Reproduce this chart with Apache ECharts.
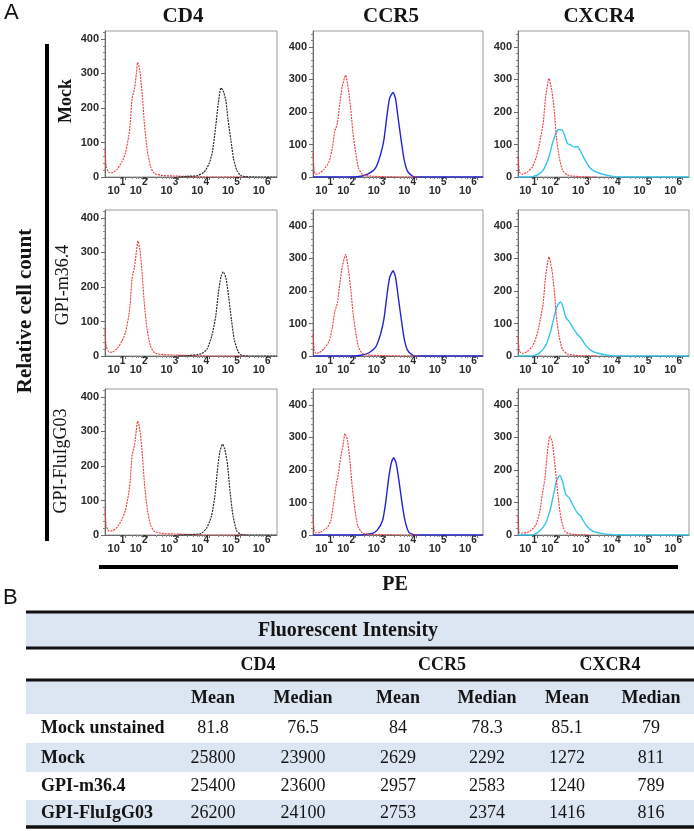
<!DOCTYPE html>
<html><head><meta charset="utf-8">
<script src="https://cdn.jsdelivr.net/npm/echarts@6/dist/echarts.min.js"></script>
<style>html,body{margin:0;padding:0;background:#fff;}#c{width:694px;height:831px;}</style>
</head><body><div id="c"></div>
<script>
// ---------- DATA ----------
const markers = ['CD4', 'CCR5', 'CXCR4'];
const samples = ['Mock', 'GPI-m36.4', 'GPI-FluIgG03'];
const tickExponents = [1, 2, 3, 4, 5, 6];
const tickPositions = [1.28, 2, 3, 4, 5, 6];   // display position of 10^k on the biexponential PE axis
const yTicks = [0, 100, 200, 300, 400];

// [display position on PE axis, cell count]
const cd4Red1 = [[0.62,83],[0.66,30],[0.74,14],[0.85,12],[1.01,22],[1.17,44],[1.28,68],[1.39,118],[1.44,155],[1.50,228],[1.58,256],[1.64,300],[1.68,332],[1.75,310],[1.83,238],[1.90,155],[1.99,80],[2.10,30],[2.23,10],[2.53,4],[2.86,3],[3.5,1],[4.0,0],[5.2,0]];
const cd4Red2 = [[0.62,77],[0.66,28],[0.74,13],[0.85,11],[1.01,21],[1.17,43],[1.28,66],[1.39,116],[1.44,152],[1.50,225],[1.58,258],[1.64,302],[1.69,333],[1.76,305],[1.83,235],[1.90,150],[1.99,76],[2.10,28],[2.23,9],[2.53,4],[2.86,3],[3.5,1],[4.0,0],[5.2,0]];
const cd4Red3 = [[0.62,74],[0.66,27],[0.74,12],[0.85,12],[1.01,22],[1.17,45],[1.28,70],[1.39,120],[1.44,158],[1.50,230],[1.58,262],[1.64,305],[1.68,330],[1.75,308],[1.83,236],[1.90,152],[1.99,78],[2.10,29],[2.23,10],[2.53,4],[2.86,3],[3.5,1],[4.0,0],[5.2,0]];
const cd4Stain1 = [[3.0,0],[3.29,2],[3.62,4],[3.84,14],[4.00,38],[4.11,72],[4.22,148],[4.30,212],[4.39,258],[4.46,250],[4.55,220],[4.62,165],[4.71,108],[4.80,52],[4.91,18],[5.04,4],[5.2,1],[5.5,0],[6.21,0]];
const cd4Stain2 = [[3.0,0],[3.3,1],[3.73,6],[3.93,19],[4.09,58],[4.22,116],[4.30,180],[4.39,230],[4.46,244],[4.55,226],[4.64,170],[4.73,105],[4.82,48],[4.95,12],[5.07,2],[5.3,0],[6.21,0]];
const cd4Stain3 = [[3.0,0],[3.3,1],[3.73,4],[3.93,21],[4.08,55],[4.19,112],[4.27,185],[4.35,240],[4.44,263],[4.51,250],[4.60,205],[4.68,130],[4.78,55],[4.90,12],[5.03,2],[5.3,0],[6.21,0]];

const ccr5Red1 = [[0.62,72],[0.66,20],[0.71,8],[0.82,11],[0.98,23],[1.15,48],[1.26,92],[1.33,138],[1.42,165],[1.50,225],[1.58,278],[1.69,313],[1.78,270],[1.86,208],[1.93,137],[2.02,76],[2.11,29],[2.24,8],[2.46,3],[3.0,1],[3.5,0],[4.1,0]];
const ccr5Red2 = [[0.62,68],[0.66,20],[0.71,8],[0.82,10],[0.98,22],[1.15,46],[1.26,90],[1.33,135],[1.42,163],[1.50,222],[1.58,275],[1.69,312],[1.78,268],[1.86,205],[1.93,135],[2.02,74],[2.11,28],[2.24,8],[2.46,3],[3.0,1],[3.5,0],[4.1,0]];
const ccr5Red3 = [[0.62,54],[0.66,15],[0.70,7],[0.85,8],[1.09,23],[1.20,43],[1.29,95],[1.37,147],[1.45,188],[1.53,240],[1.61,277],[1.67,312],[1.75,292],[1.83,230],[1.91,147],[2.0,75],[2.09,28],[2.24,6],[2.46,2],[3.0,1],[3.5,0],[4.1,0]];
const ccr5Stain1 = [[0.62,0],[1.9,0],[2.24,3],[2.46,11],[2.68,29],[2.84,70],[2.95,116],[3.06,198],[3.14,244],[3.25,260],[3.33,240],[3.42,177],[3.51,116],[3.61,54],[3.72,18],[3.88,3],[4.0,0],[6.2,0]];
const ccr5Stain2 = [[0.62,0],[1.9,0],[2.24,3],[2.46,10],[2.68,28],[2.84,68],[2.95,115],[3.06,196],[3.14,243],[3.25,262],[3.33,242],[3.42,180],[3.51,118],[3.61,55],[3.72,18],[3.88,3],[4.0,0],[6.2,0]];
const ccr5Stain3 = [[0.62,0],[2.2,0],[2.35,2],[2.57,5],[2.73,15],[2.9,44],[3.0,96],[3.11,179],[3.20,225],[3.27,238],[3.35,220],[3.44,168],[3.53,106],[3.64,44],[3.77,8],[4.0,0],[6.2,0]];

const cxcr4Red1 = [[0.66,62],[0.71,15],[0.80,8],[0.96,15],[1.13,31],[1.26,62],[1.34,92],[1.40,123],[1.48,164],[1.56,246],[1.67,303],[1.76,267],[1.84,205],[1.91,123],[2.0,62],[2.11,21],[2.27,6],[2.66,1],[3.2,0]];
const cxcr4Red2 = [[0.66,60],[0.71,14],[0.80,8],[0.96,14],[1.13,30],[1.26,60],[1.34,90],[1.40,120],[1.48,162],[1.56,245],[1.67,304],[1.76,268],[1.84,204],[1.91,122],[2.0,60],[2.11,20],[2.27,6],[2.66,1],[3.2,0]];
const cxcr4Red3 = [[0.66,57],[0.70,8],[0.80,6],[1.02,10],[1.24,31],[1.37,72],[1.45,124],[1.54,175],[1.62,258],[1.70,305],[1.78,284],[1.87,207],[1.96,124],[2.06,52],[2.20,10],[2.44,2],[3.0,0]];
const cxcr4Stain1 = [[0.66,0],[1.0,0],[1.13,1],[1.34,8],[1.51,26],[1.67,62],[1.78,103],[1.89,133],[1.98,146],[2.09,145],[2.16,133],[2.27,103],[2.38,98],[2.49,92],[2.60,94],[2.71,77],[2.85,51],[2.98,31],[3.15,18],[3.37,10],[3.58,5],[3.80,1],[3.95,0],[6.23,0]];
const cxcr4Stain2 = [[0.66,0],[1.1,0],[1.34,8],[1.56,32],[1.72,75],[1.84,122],[1.93,152],[2.04,166],[2.12,152],[2.22,118],[2.33,106],[2.44,88],[2.60,66],[2.71,55],[2.87,32],[3.09,14],[3.37,6],[3.64,2],[3.91,0],[6.23,0]];
const cxcr4Stain3 = [[0.66,0],[1.13,0],[1.34,10],[1.56,36],[1.72,82],[1.84,134],[1.91,165],[2.02,183],[2.11,165],[2.22,124],[2.33,114],[2.44,93],[2.60,67],[2.71,57],[2.87,31],[3.09,12],[3.37,5],[3.64,2],[3.91,0],[6.23,0]];

// Table B
const tableTitle = 'Fluorescent Intensity';
const tableGroups = ['CD4', 'CCR5', 'CXCR4'];
const tableStats = ['Mean', 'Median', 'Mean', 'Median', 'Mean', 'Median'];
const tableRows = ['Mock unstained', 'Mock', 'GPI-m36.4', 'GPI-FluIgG03'];
const rowMockUnstained = ['81.8', '76.5', '84', '78.3', '85.1', '79'];
const rowMock = ['25800', '23900', '2629', '2292', '1272', '811'];
const rowGpiM364 = ['25400', '23600', '2957', '2583', '1240', '789'];
const rowGpiFlu = ['26200', '24100', '2753', '2374', '1416', '816'];

// ---------- LAYOUT / STYLE ----------
const SERIF = "'Liberation Serif','Times New Roman',serif";
const SANS = "'Liberation Sans',Arial,sans-serif";
const TXT = '#141414';
const redCurves = [[cd4Red1, ccr5Red1, cxcr4Red1], [cd4Red2, ccr5Red2, cxcr4Red2], [cd4Red3, ccr5Red3, cxcr4Red3]];
const stainCurves = [[cd4Stain1, ccr5Stain1, cxcr4Stain1], [cd4Stain2, ccr5Stain2, cxcr4Stain2], [cd4Stain3, ccr5Stain3, cxcr4Stain3]];
const stainColors = ['#2b2b2b', '#2323d6', '#30c6ee'];
const colLeft = [105, 313, 518], colWidth = [172, 170, 171];
const rowTop = [31, 210, 389], gridH = 146;
const yMax = [423, 449, 449];
const xMin = [0.62, 0.62, 0.66], xMax = [6.21, 6.2, 6.23];

const minorX = [];
for (let k = 2; k <= 9; k++) minorX.push(1.28 + 0.72 * Math.log10(k));
for (let n = 2; n <= 5; n++) for (let k = 2; k <= 9; k++) minorX.push(n + Math.log10(k));

const grids = [], xAxes = [], yAxes = [], series = [];
const minorXAxes = [], minorYAxes = [];
for (let r = 0; r < 3; r++) for (let c = 0; c < 3; c++) {
  const g = r * 3 + c;
  grids.push({left: colLeft[c], top: rowTop[r], width: colWidth[c], height: gridH,
    show: true, borderColor: '#9a9a9a', borderWidth: 1});
  xAxes.push({gridIndex: g, type: 'value', position: 'bottom', min: xMin[c], max: xMax[c],
    axisLine: {show: true, onZero: false, lineStyle: {color: '#6a6a6a', width: 1}},
    axisTick: {show: true, customValues: tickPositions, length: 3, lineStyle: {color: '#6a6a6a'}},
    splitLine: {show: false},
    axisLabel: {customValues: tickPositions, margin: 4, align: 'right',
      formatter: v => '{b|10}{s|' + tickExponents[tickPositions.indexOf(v) >= 0 ? tickPositions.indexOf(v) : Math.round(v) - 1] + '}',
      rich: {
        b: {fontFamily: SANS, fontSize: 11, fontWeight: 'bold', color: '#2a2a2a', lineHeight: 12, padding: [7, 0, 0, 0]},
        s: {fontFamily: SANS, fontSize: 10, fontWeight: 'bold', color: '#2a2a2a', lineHeight: 10, padding: [0, 0, 9, 0]}
      }}
  });
  minorXAxes.push({gridIndex: g, type: 'value', position: 'bottom', min: xMin[c], max: xMax[c],
    axisLine: {show: false}, splitLine: {show: false}, axisLabel: {show: false},
    axisTick: {show: true, customValues: minorX, length: 2, lineStyle: {color: '#8a8a8a'}}});
  yAxes.push({gridIndex: g, type: 'value', min: 0, max: yMax[c],
    axisLine: {show: true, onZero: false, lineStyle: {color: '#6a6a6a', width: 1}},
    axisTick: {show: true, customValues: yTicks, length: 4, lineStyle: {color: '#6a6a6a'}},
    splitLine: {show: false},
    axisLabel: {customValues: yTicks, margin: 6, fontFamily: SANS, fontSize: 11, fontWeight: 'bold', color: '#2a2a2a'}});
  const mY = [];
  for (let v = 20; v < yMax[c]; v += 20) if (v % 100 !== 0) mY.push(v);
  minorYAxes.push({gridIndex: g, type: 'value', position: 'left', min: 0, max: yMax[c],
    axisLine: {show: false}, splitLine: {show: false}, axisLabel: {show: false},
    axisTick: {show: true, customValues: mY, length: 2, lineStyle: {color: '#8a8a8a'}}});
  const stain = {type: 'line', xAxisIndex: g, yAxisIndex: g, data: stainCurves[r][c], showSymbol: false,
    smooth: 0.2, lineStyle: {color: stainColors[c], width: c === 0 ? 1.2 : 1.4, type: c === 0 ? [2, 1] : 'solid'}, z: 2};
  const red = {type: 'line', xAxisIndex: g, yAxisIndex: g, data: redCurves[r][c], showSymbol: false,
    smooth: 0.2, lineStyle: {color: '#f0393c', width: 1.1, type: [2, 1]}, z: c === 0 ? 1 : 3};
  series.push(red, stain);
}

// ---------- GRAPHIC (titles, labels, table) ----------
const gfx = [];
function txt(x, y, text, size, weight, family, align, extra) {
  return Object.assign({type: 'text', x: x, y: y, style: {text: text, fontSize: size, fontWeight: weight,
    fontFamily: family, fill: TXT, align: align || 'center', verticalAlign: 'middle'}}, extra || {});
}
function hline(x1, x2, y, w) { return {type: 'line', shape: {x1: x1, y1: y, x2: x2, y2: y}, style: {stroke: '#111', lineWidth: w}}; }

gfx.push(txt(4, 13, 'A', 22, 'normal', SANS, 'left'));
const titleX = [183, 391, 599];
markers.forEach((m, i) => gfx.push(txt(titleX[i], 17, m, 21, 'bold', SERIF)));
const sampleX = [66, 63, 61];
samples.forEach((s, i) => gfx.push(txt(sampleX[i], rowTop[i] + gridH / 2 + (i === 0 ? -3 : i === 2 ? -1 : 2), s, 18,
  i === 0 ? 'bold' : 'normal', SERIF, 'center', {rotation: Math.PI / 2})));
gfx.push(txt(26, 311, 'Relative cell count', 21, 'bold', SERIF, 'center', {rotation: Math.PI / 2}));
gfx.push({type: 'line', shape: {x1: 47, y1: 44, x2: 47, y2: 541}, style: {stroke: '#000', lineWidth: 4}});
gfx.push({type: 'line', shape: {x1: 99, y1: 567, x2: 678, y2: 567}, style: {stroke: '#000', lineWidth: 4}});
gfx.push(txt(395, 585, 'PE', 20, 'bold', SERIF));
gfx.push(txt(3, 598, 'B', 22, 'normal', SANS, 'left'));

// table
const TL = 26, TR = 694, BAND = '#dce6f2';
const colX = [213, 303, 398, 487, 567, 651];
const groupX = [258, 442, 610];
const rowBands = [[714, 743], [743, 772], [772, 800], [800, 826]];
const rowTextY = [728, 758, 786, 813];
const tableData = [rowMockUnstained, rowMock, rowGpiM364, rowGpiFlu];
gfx.push({type: 'rect', shape: {x: TL, y: 612, width: TR - TL, height: 36}, style: {fill: BAND}});
gfx.push({type: 'rect', shape: {x: TL, y: 680, width: TR - TL, height: 34}, style: {fill: BAND}});
rowBands.forEach((b, i) => { if (i % 2 === 1) gfx.push({type: 'rect', shape: {x: TL, y: b[0], width: TR - TL, height: b[1] - b[0]}, style: {fill: BAND}}); });
gfx.push(hline(TL, TR, 612, 3), hline(TL, TR, 648, 3), hline(TL, TR, 680, 3), hline(TL, TR, 827, 3.5));
gfx.push(txt(348, 631, tableTitle, 20, 'bold', SERIF));
tableGroups.forEach((g, i) => gfx.push(txt(groupX[i], 665, g, 18, 'bold', SERIF)));
tableStats.forEach((s, i) => gfx.push(txt(colX[i], 698, s, 18, 'bold', SERIF)));
tableRows.forEach((name, i) => {
  gfx.push(txt(41, rowTextY[i], name, 18, 'bold', SERIF, 'left'));
  tableData[i].forEach((v, j) => gfx.push(txt(colX[j], rowTextY[i], v, 18, 'normal', SERIF)));
});

const chart = echarts.init(document.getElementById('c'), null, {renderer: 'canvas'});
chart.setOption({
  animation: false,
  backgroundColor: '#fff',
  grid: grids,
  xAxis: xAxes.concat(minorXAxes),
  yAxis: yAxes.concat(minorYAxes),
  series: series,
  graphic: gfx
});
</script></body></html>
